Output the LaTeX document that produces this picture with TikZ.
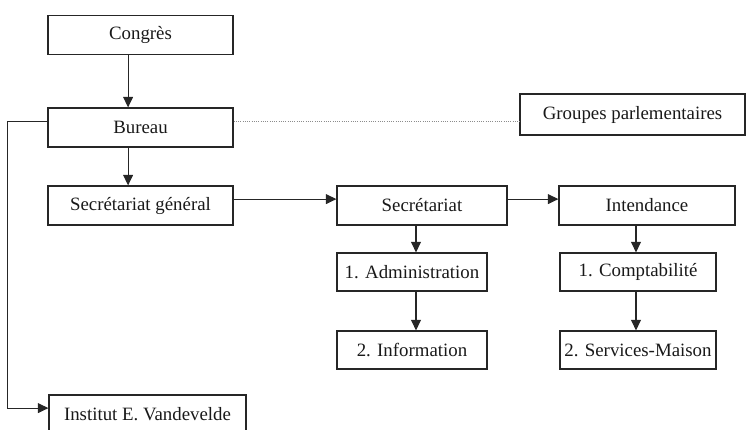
\documentclass[tikz,border=0pt]{standalone}
\usepackage{fontspec}
\setmainfont{Liberation Serif}
\usetikzlibrary{arrows.meta}
\begin{document}
\begin{tikzpicture}[x=0.025cm,y=-0.025cm,
  box/.style={draw=black!85,line width=0.8pt,inner sep=0pt,minimum height=0.975cm,
    text=black!90,font=\fontsize{13.4}{15}\selectfont},
  arr/.style={draw=black!85,line width=0.8pt,-{Triangle[length=7.5pt,width=7pt]}},
  dotline/.style={draw=black!45,line width=0.6pt,densely dotted}]
  \clip (0,0) rectangle (748,429);

  \node[box,minimum width=4.625cm] (congres) at (140.5,35) {Congrès};
  \node[box,minimum width=4.625cm] (bureau) at (140.5,127.5) {Bureau};
  \node[box,minimum width=5.625cm,minimum height=1.025cm] (groupes) at (632.5,114.5) {Groupes parlementaires};
  \node[box,minimum width=4.625cm] (secgen) at (140.5,205.5) {Secrétariat général};

  \node[box,minimum width=4.25cm] (secr) at (422,205.5) {Secrétariat};
  \node[box,minimum width=4.4cm] (intend) at (647,205.5) {Intendance};

  \node[box,minimum width=3.75cm,minimum height=0.95cm] (admin) at (412,272) {1. Administration};
  \node[box,minimum width=3.75cm,minimum height=0.95cm] (info) at (412,350) {2. Information};
  \node[box,minimum width=3.9cm,minimum height=0.95cm] (compta) at (638,272) {1. Comptabilité};
  \node[box,minimum width=3.9cm,minimum height=0.95cm] (services) at (638,350) {2. Services-Maison};

  \node[box,minimum width=4.925cm] (institut) at (147.5,414.5) {Institut E. Vandevelde};

  \draw[arr] ([xshift=-0.31cm]congres.south) -- ([xshift=-0.31cm]bureau.north);
  \draw[arr] ([xshift=-0.31cm]bureau.south) -- ([xshift=-0.31cm]secgen.north);
  \draw[dotline] ([yshift=0.14cm]bureau.east) -- ([yshift=0.14cm]bureau.east -| groupes.west);

  \draw[arr] ([yshift=0.16cm]secgen.east) -- ([yshift=0.16cm]secgen.east -| secr.west);
  \draw[arr] ([yshift=0.16cm]secr.east) -- ([yshift=0.16cm]secr.east -| intend.west);

  \draw[arr] ([xshift=-0.15cm]secr.south) -- ([xshift=-0.15cm]secr.south |- admin.north);
  \draw[arr] ([xshift=0.1cm]admin.south) -- ([xshift=0.1cm]info.north);
  \draw[arr] ([xshift=-0.275cm]intend.south) -- ([xshift=-0.275cm]intend.south |- compta.north);
  \draw[arr] ([xshift=-0.05cm]compta.south) -- ([xshift=-0.05cm]services.north);

  \draw[arr] ([yshift=0.14cm]bureau.west) -- ++(-40,0) |- ([yshift=0.16cm]institut.west);
\end{tikzpicture}
\end{document}
